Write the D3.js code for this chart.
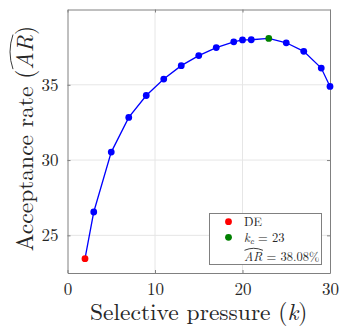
<!DOCTYPE html>
<html>
<head>
<meta charset="utf-8">
<script src="https://cdn.jsdelivr.net/npm/d3@7"></script>
</head>
<body style="margin:0;background:#fff">
<div id="chart"></div>
<script>
// selective pressure k vs acceptance rate
const kValues = [2, 3, 5, 7, 9, 11, 13, 15, 17, 19, 20, 21, 23, 25, 27, 29, 30]
const arValues = [23.45, 26.55, 30.53, 32.83, 34.29, 35.38, 36.27, 36.94, 37.47, 37.85, 37.98, 37.99, 38.08, 37.79, 37.22, 36.11, 34.89]
const xTicks = [0, 10, 20, 30]
const yTicks = [25, 30, 35]
const deK = 2
const bestK = 23
const bestAR = 38.08

const FONT = "'Latin Modern Roman', 'Liberation Serif', serif"
const INK = '#262626'
const width = 339, height = 331
const margins = { top: 9.5, right: 9, bottom: 58, left: 67.5 }

const data = kValues.map((k, i) => ({ k: k, ar: arValues[i] }))

const svg = d3.select('#chart').append('svg')
  .attr('width', width)
  .attr('height', height)

const x = d3.scaleLinear()
  .domain([0, 30])
  .range([margins.left, width - margins.right])

const y = d3.scaleLinear()
  .domain([22.5, 40])
  .range([height - margins.bottom, margins.top])

// grid
svg.append('g').selectAll('line')
  .data(xTicks.slice(1, -1))
  .enter().append('line')
  .attr('x1', d => x(d)).attr('x2', d => x(d))
  .attr('y1', y.range()[0]).attr('y2', y.range()[1])
  .style('stroke', '#e6e6e6')

svg.append('g').selectAll('line')
  .data(yTicks)
  .enter().append('line')
  .attr('x1', x.range()[0]).attr('x2', x.range()[1])
  .attr('y1', d => y(d)).attr('y2', d => y(d))
  .style('stroke', '#e6e6e6')

// axes, box with inward ticks
svg.append('g')
  .attr('transform', 'translate(0,' + y.range()[0] + ')')
  .call(d3.axisBottom(x).tickValues(xTicks).tickSizeInner(-3).tickSizeOuter(0).tickPadding(10))
svg.append('g')
  .attr('transform', 'translate(' + x.range()[0] + ',0)')
  .call(d3.axisLeft(y).tickValues(yTicks).tickSizeInner(-3).tickSizeOuter(0).tickPadding(9))
svg.append('g')
  .attr('transform', 'translate(' + x.range()[1] + ',0)')
  .call(d3.axisRight(y).tickValues(yTicks).tickSizeInner(-3).tickSizeOuter(0).tickFormat(''))
svg.append('g')
  .attr('transform', 'translate(0,' + y.range()[1] + ')')
  .call(d3.axisTop(x).tickValues(xTicks).tickSizeInner(-3).tickSizeOuter(0).tickFormat(''))

svg.selectAll('.domain').style('stroke', '#808080')
svg.selectAll('.tick line').style('stroke', '#808080')
svg.selectAll('.tick text')
  .style('font-family', FONT)
  .style('font-size', '17px')
  .style('fill', INK)

// curve
svg.append('path')
  .datum(data)
  .attr('d', d3.line().x(d => x(d.k)).y(d => y(d.ar)))
  .style('fill', 'none')
  .style('stroke', '#0000ff')
  .style('stroke-width', 1.3)

svg.append('g').selectAll('circle')
  .data(data)
  .enter().append('circle')
  .attr('cx', d => x(d.k))
  .attr('cy', d => y(d.ar))
  .attr('r', 3.4)
  .style('fill', d => d.k === deK ? '#ff0000' : d.k === bestK ? '#008000' : '#0000ff')

// wide hat drawn above a span of characters; lift is height above the baseline
function hat(g, textNode, i0, i1, base, lift, peak) {
  let a = textNode.getExtentOfChar(i0)
  let b = textNode.getExtentOfChar(i1)
  let x0 = a.x + 0.5, x1 = b.x + b.width + 0.5
  let yy = base - lift
  g.append('path')
    .attr('d', 'M' + x0 + ',' + yy + ' Q' + (x0 + x1) / 2 + ',' + (yy - peak * 2) + ' ' + x1 + ',' + yy)
    .style('fill', 'none')
    .style('stroke', INK)
    .style('stroke-width', 0.9)
}

// axis labels
svg.append('text')
  .attr('x', (x.range()[0] + x.range()[1]) / 2)
  .attr('y', 320)
  .attr('text-anchor', 'middle')
  .style('font-family', FONT)
  .style('font-size', '23.5px')
  .style('fill', INK)
  .html('Selective pressure (<tspan font-style="italic">k</tspan>)')

let yl = svg.append('g')
  .attr('transform', 'translate(33,138.5) rotate(-90)')
let ylText = yl.append('text')
  .attr('text-anchor', 'middle')
  .style('font-family', FONT)
  .style('font-size', '23.5px')
  .style('fill', INK)
  .html('Acceptance rate (<tspan font-style="italic">AR</tspan>)')
hat(yl, ylText.node(), 17, 18, 0, 20, 3)

// legend
let lg = svg.append('g')
lg.append('rect')
  .attr('x', 209.5).attr('y', 213.5)
  .attr('width', 112).attr('height', 51)
  .style('fill', '#fff')
  .style('stroke', '#808080')

const legendItems = [
  { color: '#ff0000', cy: 221.7, label: 'DE' },
  { color: '#008000', cy: 237.3, label: '<tspan font-style="italic">k</tspan><tspan font-style="italic" font-size="9px" dy="2.5">c</tspan><tspan dy="-2.5"> = ' + bestK + '</tspan>' },
  { color: null, cy: 257, label: '<tspan font-style="italic">AR</tspan> = ' + bestAR.toFixed(2) + '%' }
]
legendItems.forEach(it => {
  if (it.color) {
    lg.append('circle').attr('cx', 228.5).attr('cy', it.cy).attr('r', 3.4).style('fill', it.color)
  }
  let t = lg.append('text')
    .attr('x', 244)
    .attr('y', it.cy + 4.3)
    .style('font-family', FONT)
    .style('font-size', '12.5px')
    .style('fill', INK)
    .html(it.label)
  if (!it.color) {
    hat(lg, t.node(), 0, 1, it.cy + 4.3, 11, 2)
  }
})
</script>
</body>
</html>
